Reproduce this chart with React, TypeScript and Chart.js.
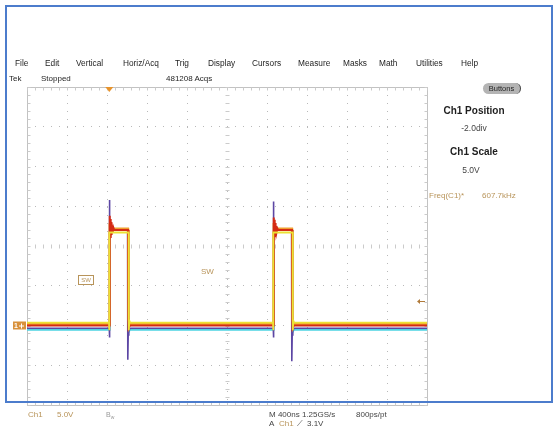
import React, { useEffect, useRef } from "react";
import { Chart, registerables } from "chart.js";

Chart.register(...registerables);

// ---- axes (time in ns, Ch1 in volts; 5 V/div, position -2 div) ----
const TIME_MIN = 0;
const TIME_MAX = 4000;
const TIME_DIV = 400;
const VOLT_MIN = -10;
const VOLT_MAX = 30;
const VOLT_DIV = 5;
const TRIGGER_TIME = 823;
const TRIGGER_LEVEL = 3.1;
const CH1_GROUND = 0;

// ---- texts ----
const menuLabels = ["File", "Edit", "Vertical", "Horiz/Acq", "Trig", "Display", "Cursors", "Measure", "Masks", "Math", "Utilities", "Help"];
const statusLabels = ["Tek", "Stopped", "481208 Acqs"];
const panelLabels = ["Ch1 Position", "-2.0div", "Ch1 Scale", "5.0V"];
const freqLabel = "Freq(C1)*";
const freqValue = "607.7kHz";
const bottomLine1 = ["Ch1", "5.0V", "M 400ns 1.25GS/s", "800ps/pt"];
const bottomLine2 = ["A", "Ch1", "⟋", "3.1V"];

// ---- persistence traces (time ns, volts) ----
const yellowTime = [0, 820, 821, 822, 826, 1016, 1017, 1019, 1024, 1032, 2460, 2461, 2462, 2466, 2656, 2657, 2659, 2664, 2672, 4000];
const yellowVolt = [0.35, 0.35, -0.6, 11.7, 11.7, 11.7, 2.0, -0.6, 0.6, 0.35, 0.35, -0.6, 11.7, 11.7, 11.7, 2.0, -0.6, 0.6, 0.35, 0.35];

const redTime = [0, 824, 826, 829, 833, 837, 841, 846, 851, 857, 864, 872, 1010, 1013, 1018, 1028, 2464, 2466, 2469, 2473, 2477, 2481, 2486, 2491, 2497, 2504, 2512, 2650, 2653, 2658, 2668, 4000];
const redVolt = [0.0, 0.0, 13.8, 10.6, 13.4, 11.0, 13.0, 11.4, 12.6, 11.7, 12.3, 12.0, 12.0, 0.6, -0.3, 0.0, 0.0, 13.6, 10.7, 13.3, 11.1, 12.9, 11.5, 12.5, 11.8, 12.2, 12.0, 12.0, 0.6, -0.3, 0.0, 0.0];

const orangeTime = [0, 824, 826, 832, 840, 850, 1011, 1014, 1020, 1030, 2464, 2466, 2472, 2480, 2490, 2651, 2654, 2660, 2670, 4000];
const orangeVolt = [0.2, 0.2, 12.9, 11.4, 12.6, 12.2, 12.2, 0.9, -0.2, 0.2, 0.2, 12.9, 11.4, 12.6, 12.2, 12.2, 0.9, -0.2, 0.2, 0.2];

const purpleTime = [0, 823, 824, 826, 828, 832, 840, 1006, 1008, 1012, 1018, 1030, 2463, 2464, 2466, 2468, 2472, 2480, 2646, 2648, 2652, 2658, 2670, 4000];
const purpleVolt = [-0.35, -0.35, -1.5, 15.8, 11.0, 12.6, 12.0, 12.0, -4.3, -1.2, -0.6, -0.35, -0.35, -1.5, 15.6, 11.0, 12.6, 12.0, 12.0, -4.5, -1.2, -0.6, -0.35, -0.35];

const cyanTime = [0, 826, 828, 1012, 1015, 1030, 2466, 2468, 2652, 2655, 2670, 4000];
const cyanVolt = [-0.55, -0.55, 12.0, 12.0, -0.9, -0.55, -0.55, 12.0, 12.0, -0.9, -0.55, -0.55];

const traces = [
  { name: "yellow", time: yellowTime, volt: yellowVolt, color: "#ece234", width: 1.8 },
  { name: "red", time: redTime, volt: redVolt, color: "#d42a14", width: 2 },
  { name: "orange", time: orangeTime, volt: orangeVolt, color: "#f0a030", width: 2 },
  { name: "purple", time: purpleTime, volt: purpleVolt, color: "#5c46a4", width: 1.6 },
  { name: "cyan", time: cyanTime, volt: cyanVolt, color: "#4cd4e2", width: 1.6 },
];

const GRID = "#b9b9b9";
const TICK = "#cbcbcb";
const TAN = "#b8945a";

const graticulePlugin = {
  id: "graticule",
  beforeDatasetsDraw(chart: any) {
    const { ctx, chartArea: a, scales } = chart;
    const x = scales.x;
    const y = scales.y;
    ctx.save();
    ctx.lineWidth = 1;
    const l = Math.round(a.left) + 0.5;
    const t = Math.round(a.top) + 0.5;
    const r = Math.round(a.right) + 0.5;
    const b = Math.round(a.bottom) + 0.5;
    ctx.strokeStyle = "#c2c2c2";
    ctx.strokeRect(l, t, r - l, b - t);
    const cx = Math.round(x.getPixelForValue((TIME_MIN + TIME_MAX) / 2)) + 0.5;
    const cy = Math.round(y.getPixelForValue((VOLT_MIN + VOLT_MAX) / 2)) + 0.5;
    ctx.strokeStyle = TICK;
    ctx.beginPath();
    for (let tv = TIME_MIN; tv <= TIME_MAX; tv += TIME_DIV / 5) {
      const px = Math.round(x.getPixelForValue(tv)) + 0.5;
      ctx.moveTo(px, t); ctx.lineTo(px, t + 3);
      ctx.moveTo(px, b); ctx.lineTo(px, b - 3);
      ctx.moveTo(px, cy - 2); ctx.lineTo(px, cy + 2);
    }
    for (let vv = VOLT_MIN; vv <= VOLT_MAX; vv += VOLT_DIV / 5) {
      const py = Math.round(y.getPixelForValue(vv)) + 0.5;
      ctx.moveTo(l, py); ctx.lineTo(l + 3, py);
      ctx.moveTo(r, py); ctx.lineTo(r - 3, py);
      ctx.moveTo(cx - 2, py); ctx.lineTo(cx + 2, py);
    }
    ctx.stroke();
    ctx.restore();
  },
  afterDatasetsDraw(chart: any) {
    const { ctx, chartArea: a, scales } = chart;
    const x = scales.x;
    const y = scales.y;
    ctx.save();
    // trigger position marker
    const tx = x.getPixelForValue(TRIGGER_TIME);
    ctx.fillStyle = "#e8942c";
    ctx.beginPath();
    ctx.moveTo(tx - 4, a.top);
    ctx.lineTo(tx + 4, a.top);
    ctx.lineTo(tx, a.top + 5);
    ctx.closePath();
    ctx.fill();
    // trigger level arrow
    const ly = Math.round(y.getPixelForValue(TRIGGER_LEVEL)) + 0.5;
    ctx.strokeStyle = "#b07a3a";
    ctx.fillStyle = "#b07a3a";
    ctx.lineWidth = 1;
    ctx.beginPath();
    ctx.moveTo(a.right - 9, ly);
    ctx.lineTo(a.right - 2, ly);
    ctx.stroke();
    ctx.beginPath();
    ctx.moveTo(a.right - 10, ly);
    ctx.lineTo(a.right - 7, ly - 2.5);
    ctx.lineTo(a.right - 7, ly + 2.5);
    ctx.closePath();
    ctx.fill();
    // channel 1 ground marker
    const gy = y.getPixelForValue(CH1_GROUND);
    ctx.fillStyle = "#d8913c";
    ctx.fillRect(a.left - 14, gy - 4, 13, 8);
    ctx.fillStyle = "#ffffff";
    ctx.font = "bold 7px 'Liberation Sans', Arial, sans-serif";
    ctx.textBaseline = "middle";
    ctx.fillText("1", a.left - 13, gy + 0.5);
    ctx.strokeStyle = "#ffffff";
    ctx.beginPath();
    ctx.moveTo(a.left - 8, gy + 0.5);
    ctx.lineTo(a.left - 3, gy + 0.5);
    ctx.moveTo(a.left - 5.5, gy - 2);
    ctx.lineTo(a.left - 5.5, gy + 3);
    ctx.stroke();
    ctx.restore();
  },
};

const MENU_X = [15, 45, 76, 123, 175, 208, 252, 298, 343, 379, 416, 461];
const STATUS_X = [9, 41, 166];

const txt = (s: string, left: number, cy: number, fs: number, extra: any = {}) => (
  <span
    key={s + left + cy}
    style={{
      position: "absolute",
      left,
      top: cy - fs / 2,
      fontSize: fs,
      lineHeight: `${fs}px`,
      whiteSpace: "nowrap",
      ...extra,
    }}
  >
    {s}
  </span>
);

export default function App() {
  const canvasRef = useRef<HTMLCanvasElement | null>(null);

  useEffect(() => {
    if (!canvasRef.current) return;
    const chart = new Chart(canvasRef.current, {
      type: "line",
      data: {
        datasets: traces.map((tr) => ({
          label: tr.name,
          data: tr.time.map((t, i) => ({ x: t, y: tr.volt[i] })),
          borderColor: tr.color,
          borderWidth: tr.width,
          pointRadius: 0,
          tension: 0,
          fill: false,
        })),
      },
      options: {
        responsive: false,
        animation: false,
        events: [],
        layout: { padding: { left: 27, top: 87, right: 126, bottom: 22 } },
        plugins: {
          legend: { display: false },
          tooltip: { enabled: false },
          title: { display: false },
        },
        scales: {
          x: {
            type: "linear",
            min: TIME_MIN,
            max: TIME_MAX,
            ticks: { display: false, stepSize: TIME_DIV },
            grid: { color: GRID, drawTicks: false, lineWidth: 1 },
            border: { display: false, dash: [1, 7] },
          },
          y: {
            type: "linear",
            min: VOLT_MIN,
            max: VOLT_MAX,
            ticks: { display: false, stepSize: VOLT_DIV },
            grid: { color: GRID, drawTicks: false, lineWidth: 1 },
            border: { display: false, dash: [1, 7] },
          },
        },
      } as any,
      plugins: [graticulePlugin],
    });
    return () => chart.destroy();
  }, []);

  const font = "'Liberation Sans', Arial, sans-serif";

  return (
    <div
      style={{
        position: "fixed",
        left: 0,
        top: 0,
        width: 553,
        height: 427,
        background: "#ffffff",
        overflow: "hidden",
        fontFamily: font,
        color: "#1e1e1e",
      }}
    >
      <canvas ref={canvasRef} width={553} height={427} style={{ position: "absolute", left: 0, top: 0 }} />
      {menuLabels.map((m, i) => txt(m, MENU_X[i], 63.5, 8.3))}
      {statusLabels.map((m, i) => txt(m, STATUS_X[i], 78.5, 8))}

      <div
        style={{
          position: "absolute",
          left: 483,
          top: 83,
          width: 37,
          height: 11,
          borderRadius: 6,
          background: "#b4b4b4",
          borderRight: "1px solid #444",
          fontSize: 7.5,
          lineHeight: "11px",
          textAlign: "center",
          color: "#222",
        }}
      >
        Buttons
      </div>

      <div style={{ position: "absolute", left: 424, width: 100, top: 105, fontSize: 10, fontWeight: "bold", textAlign: "center", lineHeight: "12px" }}>
        {panelLabels[0]}
      </div>
      <div style={{ position: "absolute", left: 424, width: 100, top: 123, fontSize: 8.5, textAlign: "center", lineHeight: "10px", color: "#444" }}>
        {panelLabels[1]}
      </div>
      <div style={{ position: "absolute", left: 424, width: 100, top: 146, fontSize: 10, fontWeight: "bold", textAlign: "center", lineHeight: "12px" }}>
        {panelLabels[2]}
      </div>
      <div style={{ position: "absolute", left: 421, width: 100, top: 165, fontSize: 8.5, textAlign: "center", lineHeight: "10px", color: "#444" }}>
        {panelLabels[3]}
      </div>
      {txt(freqLabel, 429, 196, 8, { color: TAN })}
      {txt(freqValue, 482, 196, 8, { color: TAN })}

      {txt("SW", 201, 272, 8, { color: TAN })}
      <div
        style={{
          position: "absolute",
          left: 78,
          top: 275,
          width: 14,
          height: 8,
          border: `1px solid ${TAN}`,
          fontSize: 6,
          lineHeight: "8px",
          textAlign: "center",
          color: TAN,
        }}
      >
        SW
      </div>

      {txt(bottomLine1[0], 28, 415, 8, { color: TAN })}
      {txt(bottomLine1[1], 57, 415, 8, { color: TAN })}
      <span style={{ position: "absolute", left: 106, top: 411, fontSize: 7, lineHeight: "8px", color: "#999" }}>
        B<sub style={{ fontSize: 5 }}>w</sub>
      </span>
      {txt(bottomLine1[2], 269, 415, 8, { color: "#444" })}
      {txt(bottomLine1[3], 356, 415, 8, { color: "#444" })}
      {txt(bottomLine2[0], 269, 423.5, 8, { color: "#444" })}
      {txt(bottomLine2[1], 279, 423.5, 8, { color: TAN })}
      {txt(bottomLine2[2], 297, 423.5, 8, { color: "#444" })}
      {txt(bottomLine2[3], 307, 423.5, 8, { color: "#444" })}

      <div
        style={{
          position: "absolute",
          left: 5,
          top: 5,
          width: 544,
          height: 394,
          border: "2px solid #4c7ccc",
          pointerEvents: "none",
        }}
      />
    </div>
  );
}
